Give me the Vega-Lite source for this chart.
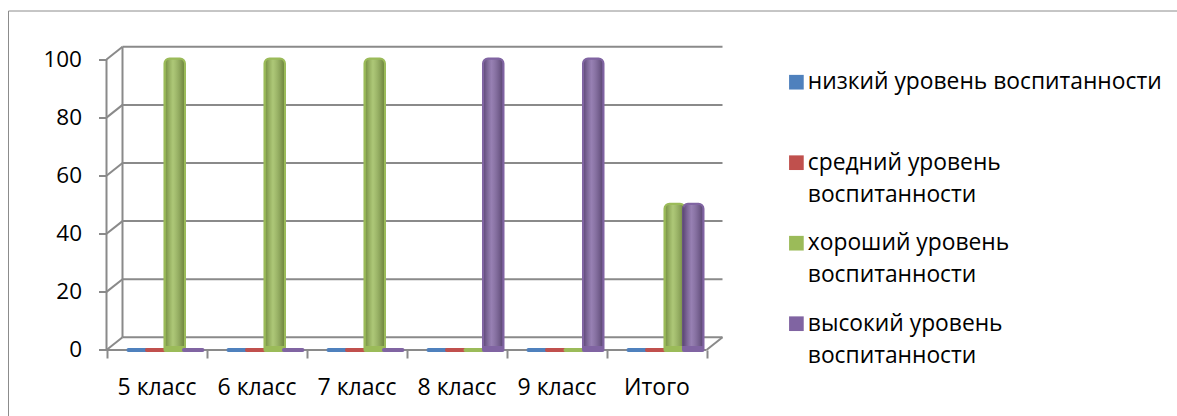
{
  "$schema": "https://vega.github.io/schema/vega-lite/v6.json",
  "usermeta": {"embedOptions": {"actions": false}},
  "autosize": "none",
  "padding": {"left": 8, "top": 10.5, "right": 0, "bottom": 0},
  "width": 1169,
  "height": 405.5,
  "background": "white",
  "config": {
    "view": {"stroke": "#8c8c8c", "strokeWidth": 1},
    "font": "Open Sans",
    "axis": {"labelFont": "Open Sans", "labelColor": "#000000", "domain": false, "grid": false, "tickColor": "#8a8a8a", "tickWidth": 2, "tickSize": 8, "title": null},
    "legend": {"labelFont": "Open Sans", "labelColor": "#000000"}
  },
  "data": {
    "values": [
      {"class": "5 класс", "level": "низкий уровень воспитанности", "value": 0},
      {"class": "5 класс", "level": "средний уровень воспитанности", "value": 0},
      {"class": "5 класс", "level": "хороший уровень воспитанности", "value": 100},
      {"class": "5 класс", "level": "высокий уровень воспитанности", "value": 0},
      {"class": "6 класс", "level": "низкий уровень воспитанности", "value": 0},
      {"class": "6 класс", "level": "средний уровень воспитанности", "value": 0},
      {"class": "6 класс", "level": "хороший уровень воспитанности", "value": 100},
      {"class": "6 класс", "level": "высокий уровень воспитанности", "value": 0},
      {"class": "7 класс", "level": "низкий уровень воспитанности", "value": 0},
      {"class": "7 класс", "level": "средний уровень воспитанности", "value": 0},
      {"class": "7 класс", "level": "хороший уровень воспитанности", "value": 100},
      {"class": "7 класс", "level": "высокий уровень воспитанности", "value": 0},
      {"class": "8 класс", "level": "низкий уровень воспитанности", "value": 0},
      {"class": "8 класс", "level": "средний уровень воспитанности", "value": 0},
      {"class": "8 класс", "level": "хороший уровень воспитанности", "value": 0},
      {"class": "8 класс", "level": "высокий уровень воспитанности", "value": 100},
      {"class": "9 класс", "level": "низкий уровень воспитанности", "value": 0},
      {"class": "9 класс", "level": "средний уровень воспитанности", "value": 0},
      {"class": "9 класс", "level": "хороший уровень воспитанности", "value": 0},
      {"class": "9 класс", "level": "высокий уровень воспитанности", "value": 100},
      {"class": "Итого", "level": "низкий уровень воспитанности", "value": 0},
      {"class": "Итого", "level": "средний уровень воспитанности", "value": 0},
      {"class": "Итого", "level": "хороший уровень воспитанности", "value": 50},
      {"class": "Итого", "level": "высокий уровень воспитанности", "value": 50}
    ]
  },
  "encoding": {
    "x": {
      "field": "class", "type": "nominal",
      "sort": ["5 класс", "6 класс", "7 класс", "8 класс", "9 класс", "Итого"],
      "scale": {"domain": ["5 класс", "6 класс", "7 класс", "8 класс", "9 класс", "Итого"], "paddingInner": 0, "paddingOuter": 0, "range": [98.5, 698.5]},
      "axis": {"orient": "bottom", "offset": -66, "labelAngle": 0, "labelFontSize": 23, "labelPadding": 18, "tickBand": "extent"}
    },
    "y": {
      "field": "value", "type": "quantitative",
      "scale": {"domain": [-22.72, 116.87], "nice": false, "zero": false},
      "axis": {"orient": "left", "offset": -98.5, "values": [0, 20, 40, 60, 80, 100], "labelFontSize": 22.5, "labelPadding": 17}
    }
  },
  "layer": [
    {
      "data": {"values": [{"v": 0}, {"v": 20}, {"v": 40}, {"v": 60}, {"v": 80}, {"v": 100}]},
      "mark": {"type": "rule", "color": "#8a8a8a", "strokeWidth": 2, "xOffset": 16, "x2Offset": 16, "yOffset": -12.7, "y2Offset": -12.7},
      "encoding": {
        "x": {"datum": "5 класс", "bandPosition": 0},
        "x2": {"datum": "Итого", "bandPosition": 1},
        "y": {"field": "v", "type": "quantitative"}
      }
    },
    {
      "data": {"values": [{"v": 0}, {"v": 20}, {"v": 40}, {"v": 60}, {"v": 80}, {"v": 100}]},
      "mark": {"type": "rule", "color": "#8a8a8a", "strokeWidth": 2, "x2Offset": 16, "y2Offset": -12.7},
      "encoding": {
        "x": {"datum": "5 класс", "bandPosition": 0},
        "x2": {"datum": "5 класс", "bandPosition": 0},
        "y": {"field": "v", "type": "quantitative"},
        "y2": {"field": "v"}
      }
    },
    {
      "data": {"values": [{"a": 0, "b": 100}]},
      "mark": {"type": "rule", "color": "#8a8a8a", "strokeWidth": 2, "xOffset": 16, "yOffset": -12.7, "y2Offset": -12.7},
      "encoding": {
        "x": {"datum": "5 класс", "bandPosition": 0},
        "y": {"field": "a", "type": "quantitative"},
        "y2": {"field": "b"}
      }
    },
    {
      "data": {"values": [{"a": 0, "b": 100}]},
      "mark": {"type": "rule", "color": "#8a8a8a", "strokeWidth": 2},
      "encoding": {
        "x": {"datum": "5 класс", "bandPosition": 0},
        "y": {"field": "a", "type": "quantitative"},
        "y2": {"field": "b"}
      }
    },
    {
      "data": {"values": [{"a": 0}]},
      "mark": {"type": "rule", "color": "#8a8a8a", "strokeWidth": 2},
      "encoding": {
        "x": {"datum": "5 класс", "bandPosition": 0},
        "x2": {"datum": "Итого", "bandPosition": 1},
        "y": {"field": "a", "type": "quantitative"}
      }
    },
    {
      "data": {"values": [{"a": 0}]},
      "mark": {"type": "rule", "color": "#8a8a8a", "strokeWidth": 2, "x2Offset": 16, "y2Offset": -12.7},
      "encoding": {
        "x": {"datum": "Итого", "bandPosition": 1},
        "x2": {"datum": "Итого", "bandPosition": 1},
        "y": {"field": "a", "type": "quantitative"},
        "y2": {"field": "a"}
      }
    },
    {
      "mark": {"type": "bar", "yOffset": -4, "y2Offset": -4, "strokeWidth": 4, "strokeJoin": "round", "cornerRadiusTopLeft": 4, "cornerRadiusTopRight": 4},
      "encoding": {
        "xOffset": {
          "field": "level", "type": "nominal",
          "sort": ["низкий уровень воспитанности", "средний уровень воспитанности", "хороший уровень воспитанности", "высокий уровень воспитанности"],
          "scale": {"paddingInner": 0, "paddingOuter": 0.7, "align": 0.846}
        },
        "color": {
          "field": "level", "type": "nominal",
          "sort": ["низкий уровень воспитанности", "средний уровень воспитанности", "хороший уровень воспитанности", "высокий уровень воспитанности"],
          "scale": {"domain": ["низкий уровень воспитанности", "средний уровень воспитанности", "хороший уровень воспитанности", "высокий уровень воспитанности"], "range": ["#4F81BD", "#C0504D", "#9BBB59", "#8064A2"]},
          "legend": {
            "title": null, "orient": "none", "legendX": 777, "legendY": 60.3,
            "symbolType": "square", "symbolSize": 215, "symbolStrokeWidth": 0,
            "labelFontSize": 22.8, "labelOffset": 0, "labelLimit": 600,
            "rowPadding": 24.5, "labelBaseline": "middle",
            "labelExpr": "datum.label == 'низкий уровень воспитанности' ? [datum.label, ''] : [slice(datum.label, 0, 15), slice(datum.label, 16)]",
            "encode": {"labels": {"update": {"lineHeight": {"value": 32}}}}
          }
        },
        "stroke": {
          "field": "level", "type": "nominal", "legend": null,
          "scale": {"domain": ["низкий уровень воспитанности", "средний уровень воспитанности", "хороший уровень воспитанности", "высокий уровень воспитанности"], "range": ["#4F81BD", "#C0504D", "#9BBB59", "#8064A2"]}
        }
      }
    },
    {
      "transform": [{"filter": "datum.value > 0"}],
      "mark": {
        "type": "bar", "yOffset": -4, "y2Offset": -4, "cornerRadiusTopLeft": 4, "cornerRadiusTopRight": 4,
        "fill": {"gradient": "linear", "x1": 0, "y1": 0, "x2": 1, "y2": 0, "stops": [
          {"offset": 0, "color": "rgba(0,0,0,0.22)"},
          {"offset": 0.4, "color": "rgba(255,255,255,0.18)"},
          {"offset": 1, "color": "rgba(0,0,0,0.28)"}
        ]}
      },
      "encoding": {
        "xOffset": {
          "field": "level", "type": "nominal",
          "sort": ["низкий уровень воспитанности", "средний уровень воспитанности", "хороший уровень воспитанности", "высокий уровень воспитанности"],
          "scale": {"paddingInner": 0, "paddingOuter": 0.7, "align": 0.846}
        }
      }
    }
  ]
}
